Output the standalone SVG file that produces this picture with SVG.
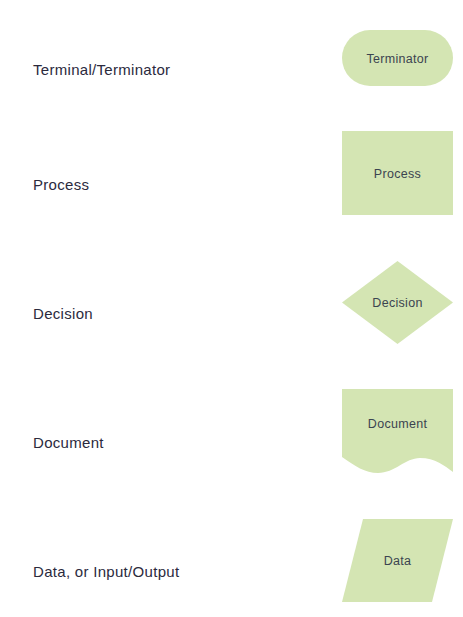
<svg xmlns="http://www.w3.org/2000/svg" width="463" height="617" viewBox="0 0 463 617">
<style>
.shape{fill:#d4e5b3;stroke:none}
.lbl{font-family:"Liberation Sans",Arial,sans-serif;font-size:15px;letter-spacing:0.3px;fill:#2b2a3d}
.sl{font-family:"Liberation Sans",Arial,sans-serif;font-size:12.5px;letter-spacing:0.3px;fill:#3b4450;text-anchor:middle}
</style>
<rect width="463" height="617" fill="#ffffff"/>
<g id="labels">
<text class="lbl" x="33" y="75">Terminal/Terminator</text>
<text class="lbl" x="33" y="190">Process</text>
<text class="lbl" x="33" y="319">Decision</text>
<text class="lbl" x="33" y="448">Document</text>
<text class="lbl" x="33" y="577">Data, or Input/Output</text>
</g>
<g id="connectors"></g>
<g id="terminator">
<rect class="shape" x="342" y="30" width="111" height="56" rx="28" ry="28"/>
<text class="sl" x="397.5" y="62.5">Terminator</text>
</g>
<g id="process">
<rect class="shape" x="342" y="131" width="111" height="84"/>
<text class="sl" x="397.5" y="177.5">Process</text>
</g>
<g id="decision">
<polygon class="shape" points="397.5,261 453,302.5 397.5,344 342,302.5"/>
<text class="sl" x="397.5" y="306.5">Decision</text>
</g>
<g id="document">
<path class="shape" d="M342,389 H453 V472 C445,466 435,458 420,458 C405,458 395,473 378,473 C365,473 355,466 342,457 Z"/>
<text class="sl" x="397.5" y="428">Document</text>
</g>
<g id="data">
<polygon class="shape" points="363,519 453,519 432,602 342,602"/>
<text class="sl" x="397.5" y="565">Data</text>
</g>
</svg>
